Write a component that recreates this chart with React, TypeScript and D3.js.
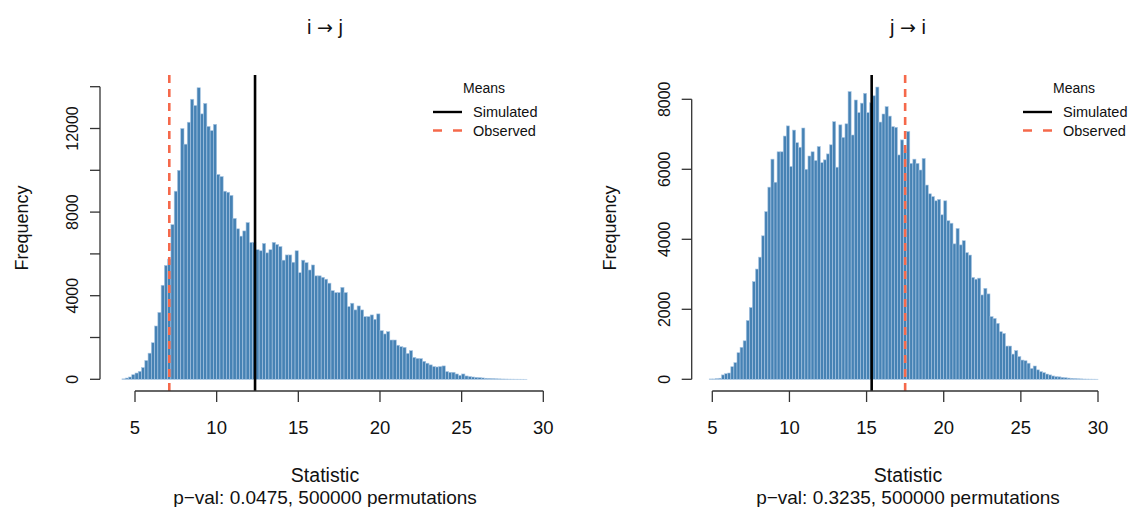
import React, { useEffect, useRef } from "react";
import * as d3 from "d3";

// histogram bin width and first break of each panel
const BIN = 0.2;
const leftStart = 4.2;
const rightStart = 4.8;

// i -> j counts per bin
const leftCounts = [
  20, 60, 110, 220, 300, 380, 560, 900, 1250, 1750,
  2550, 3200, 4500, 5450, 5750, 7400, 9000, 10000, 12000, 11250,
  12300, 13400, 13100, 13950, 12700, 13200, 12100, 11900, 12200, 9800,
  9700, 9000, 8950, 8800, 7700, 7200, 6850, 7100, 7500, 6550,
  6550, 6200, 6150, 6500, 6050, 6200, 6550, 6450, 6350, 5700,
  5950, 5950, 5600, 6150, 5100, 5700, 5580, 5230, 5470, 4950,
  4950, 4880, 4790, 4600, 4240, 4150, 4150, 4400, 4150, 3480,
  3640, 3320, 3510, 3320, 3000, 3000, 3080, 2870, 3130, 2330,
  2170, 2280, 1880, 1880, 1630, 1560, 1530, 1240, 1370, 1050,
  1000, 990, 860, 770, 690, 610, 590, 610, 640, 370,
  335, 335, 255, 190, 255, 160, 130, 110, 95, 80,
  65, 50, 45, 35, 26, 20, 15, 12, 8, 6,
  4, 3, 2, 1,
];

// j -> i counts per bin
const rightCounts = [
  10, 10, 20, 30, 125, 160, 180, 360, 475, 760,
  915, 1100, 1680, 2050, 2790, 3150, 3490, 4100, 4790, 5490,
  6290, 5630, 6500, 6500, 6950, 7240, 6080, 7120, 6760, 6630,
  7180, 6000, 6380, 6500, 6250, 6650, 6190, 6270, 6440, 6700,
  7360, 6060, 7270, 6910, 7300, 8220, 6980, 7980, 7620, 7890,
  8170, 7620, 7900, 8100, 8350, 7350, 7580, 7790, 7520, 7220,
  7200, 6410, 6840, 6570, 7080, 6170, 6290, 6170, 5980, 6310,
  5550, 5300, 5220, 5100, 5140, 4700, 5100, 4530, 4460, 3870,
  4310, 3840, 3960, 3620, 3550, 2910, 2860, 2890, 2410, 2600,
  2440, 1790, 1740, 1600, 1360, 1310, 950, 950, 720, 820,
  650, 550, 530, 460, 310, 380, 270, 220, 190, 150,
  125, 95, 75, 70, 55, 45, 35, 28, 22, 16,
  12, 8, 6, 4, 3, 2,
];

const titles = [["i", "j"], ["j", "i"]];
const simulatedMeans = [12.35, 15.33];
const observedMeans = [7.1, 17.5];
const pValues = ["0.0475", "0.3235"];
const permutations = 500000;
const xTicks = [5, 10, 15, 20, 25, 30];
const leftYTicks = [0, 2000, 4000, 6000, 8000, 10000, 12000, 14000];
const leftYLabels = [0, 4000, 8000, 12000];
const rightYTicks = [0, 2000, 4000, 6000, 8000];
const rightYLabels = [0, 2000, 4000, 6000, 8000];
const legendTitle = "Means";
const legendItems = ["Simulated", "Observed"];

const FONT = "'Liberation Sans', Arial, Helvetica, sans-serif";
const BAR_FILL = "#4682b4";
const BAR_STROKE = "#a9c6e3";
const OBS_COLOR = "#f5694b";

const App = () => {
  const ref = useRef<SVGSVGElement>(null);

  useEffect(() => {
    const svg = d3.select(ref.current);
    svg.selectAll("*").remove();

    const panels = [
      {
        counts: leftCounts, start: leftStart,
        x: d3.scaleLinear().domain([5, 30]).range([135, 543.3]),
        y: d3.scaleLinear().domain([0, 14000]).range([379.3, 86.7]),
        yTicks: leftYTicks, yLabels: leftYLabels,
        axisX: 100, center: 325, ylabX: 22, legendLine: 433,
      },
      {
        counts: rightCounts, start: rightStart,
        x: d3.scaleLinear().domain([5, 30]).range([712.3, 1098]),
        y: d3.scaleLinear().domain([0, 8000]).range([379.3, 99.3]),
        yTicks: rightYTicks, yLabels: rightYLabels,
        axisX: 691.7, center: 908, ylabX: 610, legendLine: 1023,
      },
    ];

    const plotTop = 75;
    const plotBottom = 391;

    panels.forEach((p, k) => {
      const g = svg.append("g");
      const { x, y } = p;

      // bars
      g.selectAll("rect.bar")
        .data(p.counts)
        .enter()
        .append("rect")
        .attr("class", "bar")
        .attr("x", (_, i) => x(p.start + i * BIN))
        .attr("width", (_, i) => x(p.start + (i + 1) * BIN) - x(p.start + i * BIN))
        .attr("y", d => y(d))
        .attr("height", d => y(0) - y(d))
        .attr("fill", BAR_FILL)
        .attr("stroke", BAR_STROKE)
        .attr("stroke-width", 0.6);

      // mean lines
      g.append("line")
        .attr("x1", x(simulatedMeans[k])).attr("x2", x(simulatedMeans[k]))
        .attr("y1", plotTop).attr("y2", plotBottom)
        .attr("stroke", "#000").attr("stroke-width", 2.6);
      g.append("line")
        .attr("x1", x(observedMeans[k])).attr("x2", x(observedMeans[k]))
        .attr("y1", plotTop).attr("y2", plotBottom)
        .attr("stroke", OBS_COLOR).attr("stroke-width", 2.6)
        .attr("stroke-dasharray", "8 6");

      // x axis
      const xa = g.append("g").attr("stroke", "#333").attr("stroke-width", 1.3);
      xa.append("line")
        .attr("x1", x(xTicks[0])).attr("x2", x(xTicks[xTicks.length - 1]))
        .attr("y1", plotBottom).attr("y2", plotBottom);
      xTicks.forEach(t => {
        xa.append("line")
          .attr("x1", x(t)).attr("x2", x(t))
          .attr("y1", plotBottom).attr("y2", plotBottom + 11);
        g.append("text")
          .attr("x", x(t)).attr("y", 434)
          .attr("text-anchor", "middle")
          .attr("font-family", FONT).attr("font-size", 18.5)
          .attr("fill", "#111")
          .text(t);
      });

      // y axis
      const ya = g.append("g").attr("stroke", "#333").attr("stroke-width", 1.3);
      ya.append("line")
        .attr("x1", p.axisX).attr("x2", p.axisX)
        .attr("y1", y(p.yTicks[0])).attr("y2", y(p.yTicks[p.yTicks.length - 1]));
      p.yTicks.forEach(t => {
        ya.append("line")
          .attr("x1", p.axisX - 10).attr("x2", p.axisX)
          .attr("y1", y(t)).attr("y2", y(t));
      });
      p.yLabels.forEach(t => {
        g.append("text")
          .attr("transform", `translate(${p.axisX - 22},${y(t)}) rotate(-90)`)
          .attr("text-anchor", "middle")
          .attr("font-family", FONT).attr("font-size", 16)
          .attr("fill", "#111")
          .text(t);
      });

      // labels
      g.append("text")
        .attr("transform", `translate(${p.ylabX + 6},${228}) rotate(-90)`)
        .attr("text-anchor", "middle")
        .attr("font-family", FONT).attr("font-size", 18)
        .attr("fill", "#111")
        .text("Frequency");

      const title = g.append("text")
        .attr("x", p.center).attr("y", 34)
        .attr("text-anchor", "middle")
        .attr("font-family", FONT).attr("font-size", 20)
        .attr("fill", "#111");
      title.append("tspan").text(titles[k][0] + " ");
      title.append("tspan")
        .attr("font-family", "'DejaVu Sans', sans-serif")
        .attr("font-size", 19)
        .text("\u2192");
      title.append("tspan").text(" " + titles[k][1]);

      g.append("text")
        .attr("x", p.center).attr("y", 482)
        .attr("text-anchor", "middle")
        .attr("font-family", FONT).attr("font-size", 19.5)
        .attr("fill", "#111")
        .text("Statistic");
      g.append("text")
        .attr("x", p.center).attr("y", 504)
        .attr("text-anchor", "middle")
        .attr("font-family", FONT).attr("font-size", 19)
        .attr("fill", "#111")
        .text(`p\u2212val: ${pValues[k]}, ${permutations} permutations`);

      // legend
      const lx = p.legendLine;
      g.append("text")
        .attr("x", lx + 51).attr("y", 93)
        .attr("text-anchor", "middle")
        .attr("font-family", FONT).attr("font-size", 14)
        .attr("fill", "#111")
        .text(legendTitle);
      legendItems.forEach((name, i) => {
        const ly = 112 + i * 18.5;
        g.append("line")
          .attr("x1", lx).attr("x2", lx + 29)
          .attr("y1", ly).attr("y2", ly)
          .attr("stroke", i === 0 ? "#000" : OBS_COLOR)
          .attr("stroke-width", 2.4)
          .attr("stroke-dasharray", i === 0 ? null : "9 11");
        g.append("text")
          .attr("x", lx + 40).attr("y", ly + 5)
          .attr("font-family", FONT).attr("font-size", 14.5)
          .attr("fill", "#111")
          .text(name);
      });
    });
  }, []);

  return (
    <svg
      ref={ref}
      width={1130}
      height={507}
      style={{ position: "absolute", left: 0, top: 0, background: "#fff" }}
    />
  );
};

export default App;
